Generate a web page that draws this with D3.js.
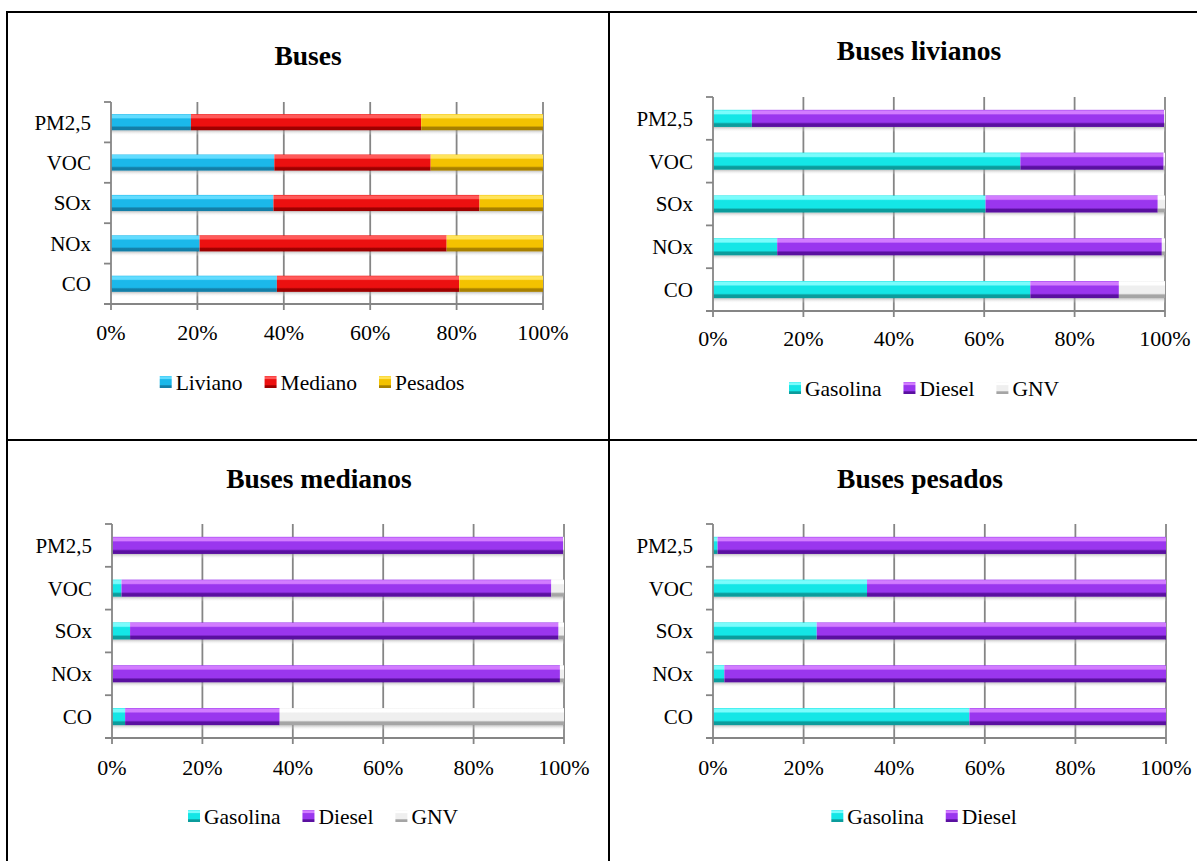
<!DOCTYPE html>
<html>
<head>
<meta charset="utf-8">
<script src="https://cdn.jsdelivr.net/npm/d3@7"></script>
<style>
  html, body { margin: 0; padding: 0; background: #fff; }
  svg { display: block; }
  text { font-family: "Liberation Serif", "DejaVu Serif", serif; fill: #000; }
</style>
</head>
<body>
<svg id="chart" width="1197" height="861"></svg>
<script>
// ---------------- DATA ----------------
const categories = ["CO", "NOx", "SOx", "VOC", "PM2,5"];
const tickValues = [0, 20, 40, 60, 80, 100];
const tickLabels = ["0%", "20%", "40%", "60%", "80%", "100%"];

const titleBuses = "Buses";
const titleLivianos = "Buses livianos";
const titleMedianos = "Buses medianos";
const titlePesados = "Buses pesados";

const seriesBuses = ["Liviano", "Mediano", "Pesados"];
const seriesFuel3 = ["Gasolina", "Diesel", "GNV"];
const seriesFuel2 = ["Gasolina", "Diesel"];

// Buses (%)                 CO    NOx   SOx   VOC   PM2,5
const busesLiviano      = [38.4, 20.5, 37.6, 37.8, 18.5];
const busesMediano      = [42.2, 57.2, 47.7, 36.2, 53.3];
const busesPesados      = [19.4, 22.3, 14.7, 26.0, 28.2];

// Buses livianos (%)
const livGasolina       = [70.2, 14.2, 60.3, 68.0, 8.6];
const livDiesel         = [19.6, 85.1, 38.1, 31.7, 91.2];
const livGNV            = [10.2, 0.7, 1.6, 0.3, 0.2];

// Buses medianos (%)
const medGasolina       = [2.9, 0.1, 4.0, 2.1, 0.1];
const medDiesel         = [34.2, 99.0, 94.8, 95.1, 99.7];
const medGNV            = [62.9, 0.9, 1.2, 2.8, 0.2];

// Buses pesados (%)
const pesGasolina       = [56.6, 2.5, 22.9, 34.0, 1.0];
const pesDiesel         = [43.4, 97.5, 77.1, 66.0, 99.0];

// ---------------- STYLE ----------------
const palette = {
  "Liviano":  {light: "#62dcff", base: "#1bb8ea", dark: "#137fa8"},
  "Mediano":  {light: "#ff5a5a", base: "#ec1010", dark: "#9e0000"},
  "Pesados":  {light: "#ffe45a", base: "#f4c200", dark: "#a88000"},
  "Gasolina": {light: "#7afcfc", base: "#14e6e6", dark: "#0b9c9c"},
  "Diesel":   {light: "#d27cff", base: "#9a36ee", dark: "#5a10a0"},
  "GNV":      {light: "#ffffff", base: "#efefef", dark: "#a5a5a5"}
};

const svg = d3.select("#chart");
const defs = svg.append("defs");
Object.entries(palette).forEach(([k, c]) => {
  const g = defs.append("linearGradient")
    .attr("id", "grad-" + k).attr("x1", 0).attr("y1", 0).attr("x2", 0).attr("y2", 1);
  g.append("stop").attr("offset", "0%").attr("stop-color", c.base);
  g.append("stop").attr("offset", "6%").attr("stop-color", c.light);
  g.append("stop").attr("offset", "22%").attr("stop-color", c.light);
  g.append("stop").attr("offset", "30%").attr("stop-color", c.base);
  g.append("stop").attr("offset", "72%").attr("stop-color", c.base);
  g.append("stop").attr("offset", "82%").attr("stop-color", c.dark);
  g.append("stop").attr("offset", "100%").attr("stop-color", c.dark);
});
const sh = defs.append("linearGradient").attr("id", "shadow")
  .attr("x1", 0).attr("y1", 0).attr("x2", 0).attr("y2", 1);
sh.append("stop").attr("offset", "0%").attr("stop-color", "#999").attr("stop-opacity", 0.6);
sh.append("stop").attr("offset", "100%").attr("stop-color", "#fff").attr("stop-opacity", 0);

// ---------------- FRAME ----------------
const frame = svg.append("g").attr("stroke", "#000").attr("stroke-width", 2).attr("fill", "none");
frame.append("line").attr("x1", 6).attr("x2", 1197).attr("y1", 12).attr("y2", 12);
frame.append("line").attr("x1", 7).attr("x2", 7).attr("y1", 11).attr("y2", 861);
frame.append("line").attr("x1", 609).attr("x2", 609).attr("y1", 11).attr("y2", 861);
frame.append("line").attr("x1", 6).attr("x2", 1197).attr("y1", 440).attr("y2", 440);

// ---------------- PANELS ----------------
const panels = [
  {title: titleBuses, series: seriesBuses, values: [busesLiviano, busesMediano, busesPesados],
   x0: 111, x1: 543, yTop: 102, yBot: 304, titleX: 308, titleY: 55, tickY: 332, legendX: 312, legendY: 382},
  {title: titleLivianos, series: seriesFuel3, values: [livGasolina, livDiesel, livGNV],
   x0: 713, x1: 1165, yTop: 97, yBot: 311, titleX: 919, titleY: 50, tickY: 338, legendX: 924, legendY: 388},
  {title: titleMedianos, series: seriesFuel3, values: [medGasolina, medDiesel, medGNV],
   x0: 112, x1: 564, yTop: 524, yBot: 738, titleX: 319, titleY: 478, tickY: 767, legendX: 323, legendY: 816},
  {title: titlePesados, series: seriesFuel2, values: [pesGasolina, pesDiesel],
   x0: 713, x1: 1166, yTop: 524, yBot: 738, titleX: 920, titleY: 478, tickY: 767, legendX: 924, legendY: 816}
];

panels.forEach(p => {
  const g = svg.append("g");
  const x = d3.scaleLinear().domain([0, 100]).range([p.x0, p.x1]);
  const y = d3.scaleBand().domain(categories).range([p.yBot, p.yTop]).paddingInner(0.6).paddingOuter(0.3);
  const yTicks = d3.scaleBand().domain(categories).range([p.yBot, p.yTop]);

  // title
  g.append("text").attr("x", p.titleX).attr("y", p.titleY).attr("dy", "0.35em")
    .attr("text-anchor", "middle").attr("font-weight", "bold").attr("font-size", 27.5)
    .text(p.title);

  // gridlines (with tick marks below the axis)
  g.append("g").selectAll("line").data(tickValues.slice(1)).join("line")
    .attr("x1", d => x(d)).attr("x2", d => x(d))
    .attr("y1", p.yTop).attr("y2", p.yBot + 6)
    .attr("stroke", "#858585").attr("stroke-width", 1.8);

  const stack = d3.stack().keys(d3.range(p.series.length))
    .value((d, k) => p.values[k][d])(d3.range(categories.length));

  // shadows under bars
  g.append("g").selectAll("rect").data(d3.range(categories.length)).join("rect")
    .attr("x", x(0)).attr("width", x(100) - x(0))
    .attr("y", i => y(categories[i]) + y.bandwidth())
    .attr("height", 5).attr("fill", "url(#shadow)");

  // bars
  stack.forEach((layer, k) => {
    g.append("g").selectAll("rect").data(layer).join("rect")
      .attr("x", d => x(d[0]))
      .attr("width", d => Math.max(0, x(d[1]) - x(d[0])))
      .attr("y", (d, i) => y(categories[i]))
      .attr("height", y.bandwidth())
      .attr("fill", "url(#grad-" + p.series[k] + ")");
  });

  // y axis
  const yAxisG = g.append("g").attr("transform", `translate(${p.x0},0)`);
  yAxisG.append("line").attr("x1", 0).attr("x2", 0).attr("y1", p.yTop).attr("y2", p.yBot + 6)
    .attr("stroke", "#858585").attr("stroke-width", 1.8);
  const bounds = categories.map(c => yTicks(c)).concat([p.yBot]);
  yAxisG.selectAll("line.tk").data(bounds).join("line").attr("class", "tk")
    .attr("x1", -7).attr("x2", 0).attr("y1", d => d).attr("y2", d => d)
    .attr("stroke", "#858585").attr("stroke-width", 1.8);
  yAxisG.selectAll("text").data(categories).join("text")
    .attr("x", -20).attr("y", d => y(d) + y.bandwidth() / 2).attr("dy", "0.35em")
    .attr("text-anchor", "end").attr("font-size", 21).text(d => d);

  // x axis line
  g.append("line").attr("x1", p.x0 - 7).attr("x2", p.x1).attr("y1", p.yBot).attr("y2", p.yBot)
    .attr("stroke", "#858585").attr("stroke-width", 1.8);
  g.append("g").selectAll("text").data(tickValues).join("text")
    .attr("x", d => x(d)).attr("y", p.tickY).attr("dy", "0.35em")
    .attr("text-anchor", "middle").attr("font-size", 22)
    .text((d, i) => tickLabels[i]);

  // legend
  const lg = g.append("g");
  const items = lg.selectAll("g").data(p.series).join("g");
  items.append("rect").attr("width", 12).attr("height", 12).attr("y", p.legendY - 6)
    .attr("fill", d => "url(#grad-" + d + ")");
  items.append("text").attr("x", 16).attr("y", p.legendY).attr("dy", "0.35em")
    .attr("font-size", 21.5).text(d => d);
  const widths = [];
  items.each(function () {
    widths.push(16 + d3.select(this).select("text").node().getComputedTextLength());
  });
  const gap = 22;
  const total = d3.sum(widths) + gap * (widths.length - 1);
  let start = p.legendX - total / 2;
  items.attr("transform", (d, i) => {
    const t = `translate(${start},0)`;
    start += widths[i] + gap;
    return t;
  });
});
</script>
</body>
</html>
